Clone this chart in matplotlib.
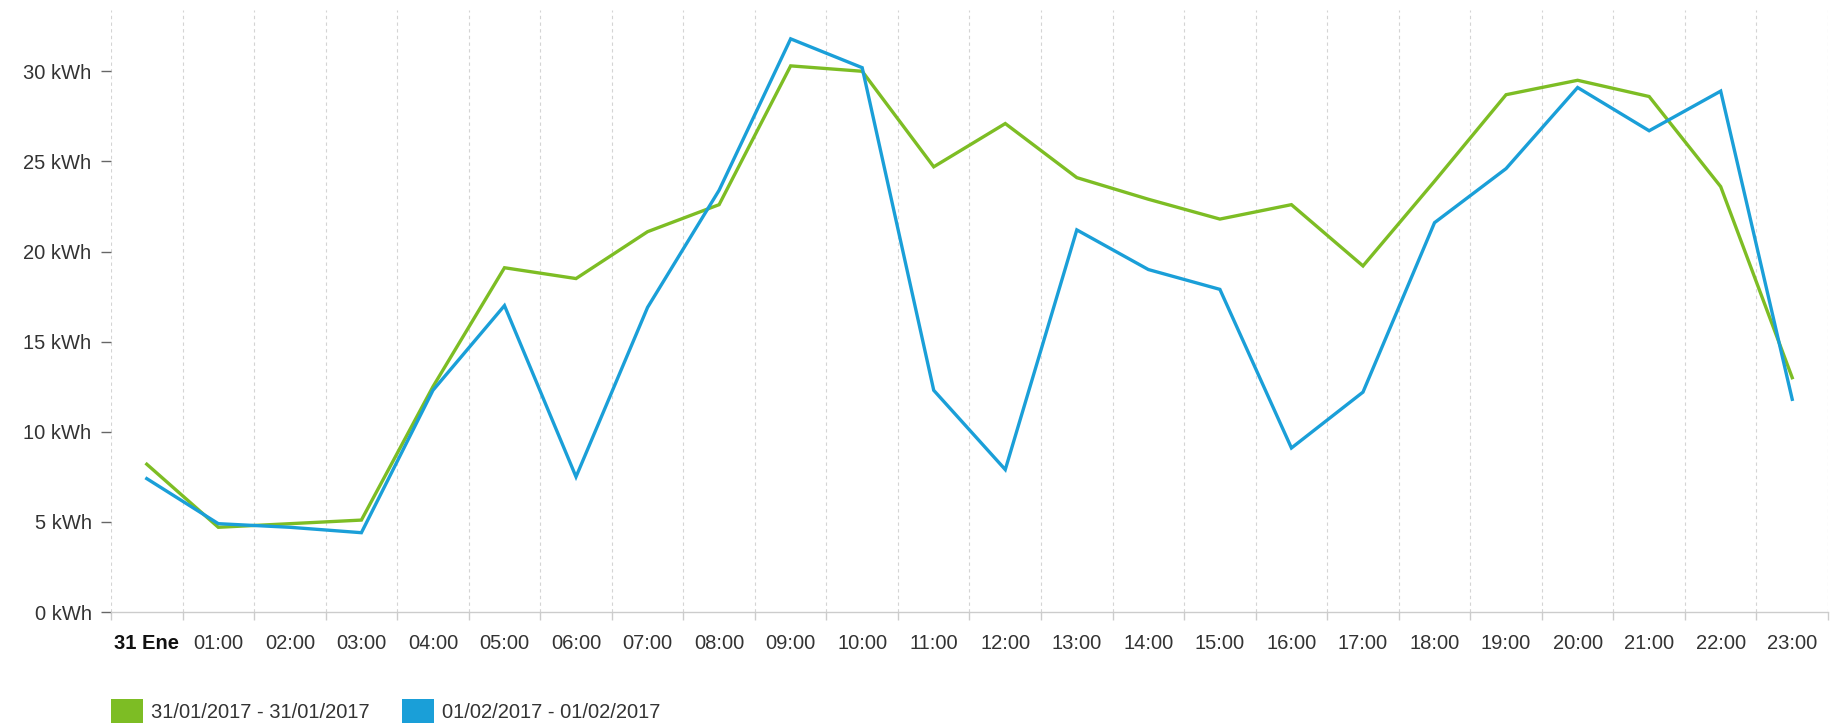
import numpy as np
import matplotlib.pyplot as plt
from matplotlib.patches import Patch
from matplotlib.ticker import FixedLocator

plt.rcParams['font.family'] = ['Liberation Sans', 'DejaVu Sans']

# hourly consumption, kWh
hours = ['31 Ene'] + ['{:02d}:00'.format(h) for h in range(1, 24)]
jan31 = [8.2, 4.7, 4.9, 5.1, 12.5, 19.1, 18.5, 21.1, 22.6, 30.3, 30.0, 24.7,
         27.1, 24.1, 22.9, 21.8, 22.6, 19.2, 23.9, 28.7, 29.5, 28.6, 23.6, 13.0]
feb01 = [7.4, 4.9, 4.7, 4.4, 12.3, 17.0, 7.5, 16.9, 23.4, 31.8, 30.2, 12.3,
         7.9, 21.2, 19.0, 17.9, 9.1, 12.2, 21.6, 24.6, 29.1, 26.7, 28.9, 11.8]
labels = ['31/01/2017 - 31/01/2017', '01/02/2017 - 01/02/2017']
colors = ['#7dbd24', '#1a9fd8']

FS = 14.5
W, H = 1840, 723
fig = plt.figure(figsize=(W / 100, H / 100), dpi=100)
ax = fig.add_axes([111 / W, (H - 612) / H, (1828 - 111) / W, (612 - 10) / H])

x = np.arange(len(hours))
ax.plot(x, jan31, color=colors[0], lw=2.4, solid_joinstyle='miter')
ax.plot(x, feb01, color=colors[1], lw=2.4, solid_joinstyle='miter')

ax.set_xlim(-0.5, len(hours) - 0.5)
ax.set_ylim(0, 33.4)

# labels on the hours, ticks/grid between them
ax.set_xticks(x)
ax.set_xticklabels(hours)
ax.xaxis.set_minor_locator(FixedLocator(np.arange(-0.5, len(hours), 1.0)))
ax.tick_params(axis='x', which='major', length=0, pad=16, labelsize=FS, labelcolor='#333333')
ax.tick_params(axis='x', which='minor', length=6, color='#cccccc', width=1)
ax.get_xticklabels()[0].set_fontweight('bold')
ax.get_xticklabels()[0].set_color('#111111')
ax.grid(axis='x', which='minor', color='#d4d4d4', linestyle=(0, (3, 3)), lw=0.8)

yt = np.arange(0, 31, 5)
ax.set_yticks(yt)
ax.set_yticklabels(['{} kWh'.format(v) for v in yt])
ax.tick_params(axis='y', length=7, width=1, color='#666666', pad=7, labelsize=FS, labelcolor='#333333')

for s in ['top', 'right', 'left']:
    ax.spines[s].set_visible(False)
ax.spines['bottom'].set_color('#cccccc')
ax.spines['bottom'].set_linewidth(1)

handles = [Patch(facecolor=c, edgecolor='none') for c in colors]
fig.legend(handles, labels, loc='lower left', bbox_to_anchor=(111 / W, 0.0), ncol=2,
           frameon=False, fontsize=FS, handlelength=1.6, handleheight=1.45,
           handletextpad=0.4, columnspacing=1.6, borderpad=0, borderaxespad=0,
           labelcolor='#333333')

plt.savefig('out.png', dpi=100)
